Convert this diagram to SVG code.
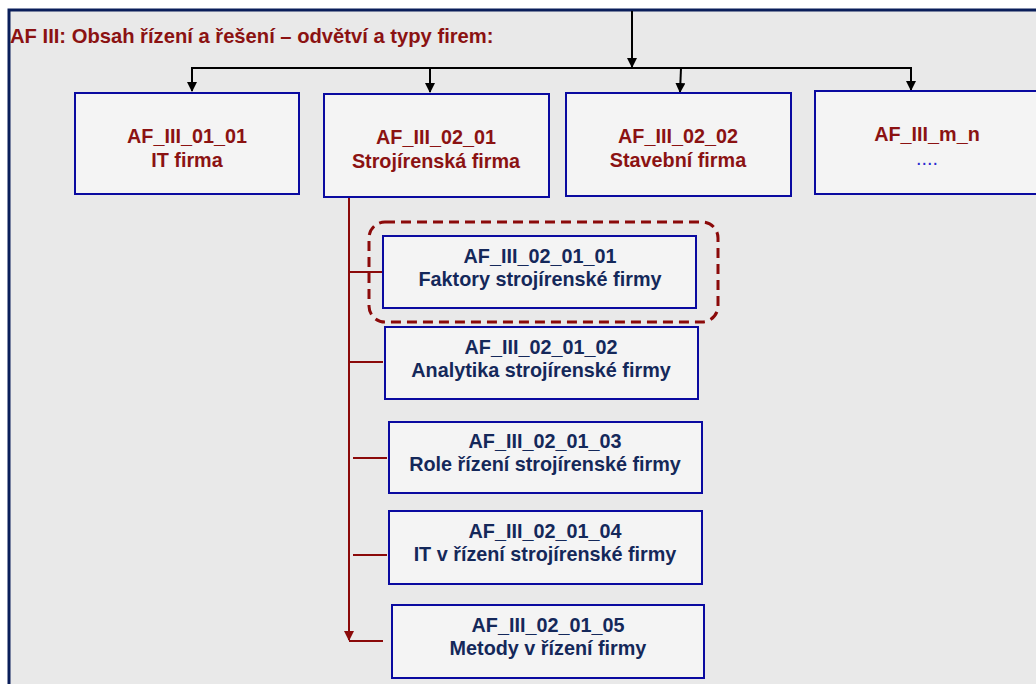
<svg xmlns="http://www.w3.org/2000/svg" width="1036" height="684" viewBox="0 0 1036 684">
<defs>
<style>
.box{fill:#f4f4f4;stroke:#0a0aa0;stroke-width:2}
.t{font-family:"Liberation Sans",Arial,sans-serif;font-weight:bold;font-size:19.8px;text-anchor:middle}
.red{fill:#8b1212}
.navy{fill:#14285a}
.blk{stroke:#000;stroke-width:2;fill:none}
.rd{stroke:#8b0a0a;stroke-width:2;fill:none}
</style>
<marker id="ab" viewBox="0 0 10 10" refX="9" refY="5" markerWidth="5" markerHeight="5" orient="auto" markerUnits="strokeWidth"><path d="M0,0L10,5L0,10z" fill="#000"/></marker>
<marker id="ar" viewBox="0 0 10 10" refX="9" refY="5" markerWidth="5" markerHeight="5" orient="auto" markerUnits="strokeWidth"><path d="M0,0L10,5L0,10z" fill="#8b0a0a"/></marker>
</defs>
<rect width="1036" height="684" fill="#ffffff"/>
<rect x="9" y="10" width="1040" height="690" fill="#e9e9e9" stroke="#0a1e5a" stroke-width="3"/>
<text x="10" y="43" class="t red" style="text-anchor:start;font-size:20.2px">AF III: Obsah řízení a řešení – odvětví a typy firem:</text>
<g id="connectors">
<line x1="632" y1="11" x2="632" y2="67" class="blk" marker-end="url(#ab)"/>
<polyline points="192,88 192,68 911,68 911,90" class="blk" marker-end="url(#ab)"/>
<line x1="192" y1="68" x2="192" y2="91" class="blk" marker-end="url(#ab)"/>
<line x1="430" y1="68" x2="430" y2="92" class="blk" marker-end="url(#ab)"/>
<line x1="681" y1="68" x2="680" y2="92" class="blk" marker-end="url(#ab)"/>
<line x1="349" y1="188" x2="349" y2="640" class="rd" marker-end="url(#ar)"/>
<line x1="349" y1="641" x2="383" y2="641" class="rd"/>
<line x1="349" y1="272" x2="383" y2="272" class="rd"/>
<line x1="349" y1="362" x2="383" y2="362" class="rd"/>
<line x1="353" y1="458" x2="387" y2="458" class="rd"/>
<line x1="353" y1="555" x2="387" y2="555" class="rd"/>
</g>
<g id="n1"><rect x="75" y="93" width="224" height="101" class="box"/><text x="187" y="143" class="t red">AF_III_01_01</text><text x="187" y="167" class="t red">IT firma</text></g>
<g id="n2"><rect x="324" y="94" width="225" height="103" class="box"/><text x="436" y="144" class="t red">AF_III_02_01</text><text x="436" y="168" class="t red">Strojírenská firma</text></g>
<g id="n3"><rect x="566" y="93" width="225" height="103" class="box"/><text x="678" y="143" class="t red">AF_III_02_02</text><text x="678" y="167" class="t red">Stavební firma</text></g>
<g id="n4"><rect x="815" y="91" width="240" height="103" class="box"/><text x="927" y="141" class="t red">AF_III_m_n</text><text x="927" y="165" class="t" style="fill:#2a2ad0;font-weight:normal">....</text></g>
<g id="highlight"><rect x="369" y="222" width="349" height="100" rx="16" fill="none" stroke="#8b0a0a" stroke-width="3" stroke-dasharray="10 6"/></g>
<g id="s1"><rect x="383" y="236" width="313" height="72" class="box"/><text x="540" y="263" class="t navy">AF_III_02_01_01</text><text x="540" y="286" class="t navy">Faktory strojírenské firmy</text></g>
<g id="s2"><rect x="385" y="327" width="313" height="72" class="box"/><text x="541" y="354" class="t navy">AF_III_02_01_02</text><text x="541" y="377" class="t navy">Analytika strojírenské firmy</text></g>
<g id="s3"><rect x="389" y="422" width="313" height="71" class="box"/><text x="545" y="448" class="t navy">AF_III_02_01_03</text><text x="545" y="471" class="t navy">Role řízení strojírenské firmy</text></g>
<g id="s4"><rect x="389" y="511" width="313" height="73" class="box"/><text x="545" y="538" class="t navy">AF_III_02_01_04</text><text x="545" y="561" class="t navy">IT v řízení strojírenské firmy</text></g>
<g id="s5"><rect x="392" y="605" width="312" height="73" class="box"/><text x="548" y="632" class="t navy">AF_III_02_01_05</text><text x="548" y="655" class="t navy">Metody v řízení firmy</text></g>
</svg>
